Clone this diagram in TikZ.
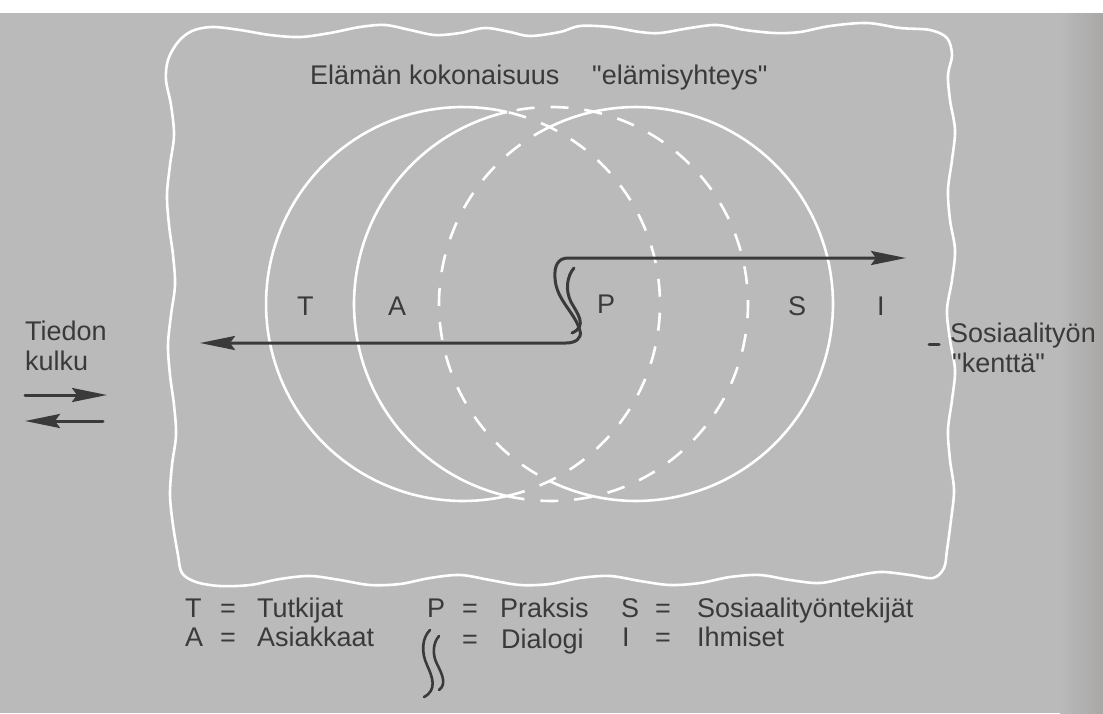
\documentclass[tikz,border=0pt]{standalone}
\usepackage{fontspec}
\setmainfont{Liberation Sans}[Ligatures=TeXOff]
\usetikzlibrary{arrows.meta}
\definecolor{bgc}{HTML}{BABABA}
\definecolor{edgec}{HTML}{A9A6A6}
\definecolor{inkc}{HTML}{3A3A3A}
\begin{document}
\begin{tikzpicture}[x=1pt,y=-1pt,
  wl/.style={white, line width=2.6pt},
  wd/.style={white, line width=2.6pt, dash pattern=on 18pt off 16pt},
  inkline/.style={draw=inkc, line width=3pt, line cap=round, line join=round},
  tipA/.style={-{Stealth[length=35pt,width=14pt,inset=5pt]}},
  lbl/.style={text=inkc, font=\fontsize{27}{32}\selectfont, inner sep=0pt, anchor=base west},
]
\useasboundingbox (0,0) rectangle (1103,713);
\fill[white] (0,0) rectangle (1103,713);
\fill[bgc] (0,13) rectangle (1103,713);
\shade[left color=bgc, right color=edgec] (1060,13) rectangle (1103,713);

% wavy border
\draw[wl] plot[smooth cycle, tension=0.55] coordinates {
 (178,42) (192,31) (212,27) (240,30) (270,35) (300,37) (330,33) (360,27) (385,25)
 (410,30) (435,35) (460,33) (485,28) (510,32) (530,36) (560,32) (580,26) (610,27)
 (640,32) (660,33) (690,28) (717,25) (745,30) (775,33) (800,32) (830,26) (867,23)
 (900,28) (930,30) (947,38)
 (952,55) (948,75) (950,100) (955,130) (952,160) (948,190) (950,220) (955,250)
 (952,280) (947,310) (950,340) (955,370) (952,400) (948,430) (950,460) (954,490)
 (951,520) (947,550) (944,568) (933,578)
 (910,575) (880,572) (850,577) (820,583) (790,580) (760,575) (730,577) (700,583)
 (670,585) (640,581) (610,576) (580,578) (550,584) (520,585) (490,580) (460,575)
 (430,578) (400,584) (370,585) (340,580) (310,576) (280,579) (250,585) (220,586)
 (196,582) (182,573)
 (178,555) (173,525) (170,495) (172,465) (176,435) (174,405) (170,375) (168,345)
 (171,315) (175,285) (173,255) (169,225) (167,195) (170,165) (174,135) (171,105)
 (166,80) (168,60)};

% circles
\draw[wl] plot[domain=77:283, samples=90] ({463+197*cos(\x)},{304-197*sin(\x)});
\draw[wd] plot[domain=-77:77, samples=90] ({463+197*cos(\x)},{304-197*sin(\x)});
\draw[wl] plot[domain=103:257, samples=90] ({551+197*cos(\x)},{304-197*sin(\x)});
\draw[wd] plot[domain=-103:103, samples=90] ({551+197*cos(\x)},{304-197*sin(\x)});
\draw[wl] plot[domain=-116:116, samples=90] ({636+197*cos(\x)},{304-197*sin(\x)});
\draw[wd] plot[domain=116:244, samples=90] ({636+197*cos(\x)},{304-197*sin(\x)});

% main arrow through the dialogue bend
\coordinate (lt) at (200,343);
\coordinate (rt) at (906,258);
\draw[inkline, {Stealth[length=35pt,width=14pt,inset=5pt]}-{Stealth[length=35pt,width=14pt,inset=5pt]}]
  (lt) -- (566,343) .. controls (576,343) and (582,338) .. (580,331)
  .. controls (575,312) and (556,300) .. (555,278)
  .. controls (554,266) and (558,258) .. (568,258) -- (rt);
% inner dialogue stroke
\coordinate (d1) at (574,268);
\coordinate (d2) at (572,333);
\draw[inkline] (d1) .. controls (567,276) and (565,290) .. (571,302)
  .. controls (577,313) and (588,326) .. (d2);

% title
\node[lbl] (title1) at (310,84) {Elämän kokonaisuus};
\node[lbl] (title2) at (592,84) {"elämisyhteys"};

% region letters
\node[lbl] (T) at (297,315) {T};
\node[lbl] (A) at (388,315) {A};
\node[lbl] (P) at (597,313) {P};
\node[lbl] (S) at (788,315) {S};
\node[lbl] (I) at (877,315) {I};

% left: information flow
\node[lbl] (tiedon) at (25,340) {Tiedon};
\node[lbl] (kulku) at (25,370) {kulku};
\coordinate (r1) at (25,395);
\coordinate (r2) at (107,395);
\coordinate (l1) at (103,421);
\coordinate (l2) at (25,421);
\draw[inkline, tipA] (r1) -- (r2);
\draw[inkline, tipA] (l1) -- (l2);

% right: field of social work
\coordinate (k1) at (929,344);
\coordinate (k2) at (939,344);
\draw[inkline] (k1) -- (k2);
\node[lbl] (sos) at (950,342) {Sosiaalityön};
\node[lbl] (kentta) at (952,372) {"kenttä"};

% legend
\node[lbl] (lT) at (185,617) {T};
\node[lbl] (eT) at (220,617) {=};
\node[lbl] (wT) at (257,617) {Tutkijat};
\node[lbl] (lA) at (185,646) {A};
\node[lbl] (eA) at (220,646) {=};
\node[lbl] (wA) at (257,646) {Asiakkaat};
\node[lbl] (lP) at (427,617) {P};
\node[lbl] (eP) at (462,617) {=};
\node[lbl] (wP) at (500,617) {Praksis};
\node[lbl] (eD) at (462,648) {=};
\node[lbl] (wD) at (501,648) {Dialogi};
\node[lbl] (lS) at (621,617) {S};
\node[lbl] (eS) at (655,617) {=};
\node[lbl] (wS) at (697,617) {Sosiaalityöntekijät};
\node[lbl] (lI) at (622,646) {I};
\node[lbl] (eI) at (655,646) {=};
\node[lbl] (wI) at (697,646) {Ihmiset};
% legend dialogue symbol
\coordinate (s1) at (430,630);
\coordinate (s2) at (424,697);
\coordinate (s3) at (439,636);
\coordinate (s4) at (439,690);
\draw[inkline, line width=2.6pt] (s1) .. controls (422,638) and (421,652) .. (427,665)
  .. controls (433,678) and (437,690) .. (s2);
\draw[inkline, line width=2.6pt] (s3) .. controls (433,643) and (432,654) .. (437,664)
  .. controls (442,674) and (447,684) .. (s4);
\end{tikzpicture}
\end{document}
